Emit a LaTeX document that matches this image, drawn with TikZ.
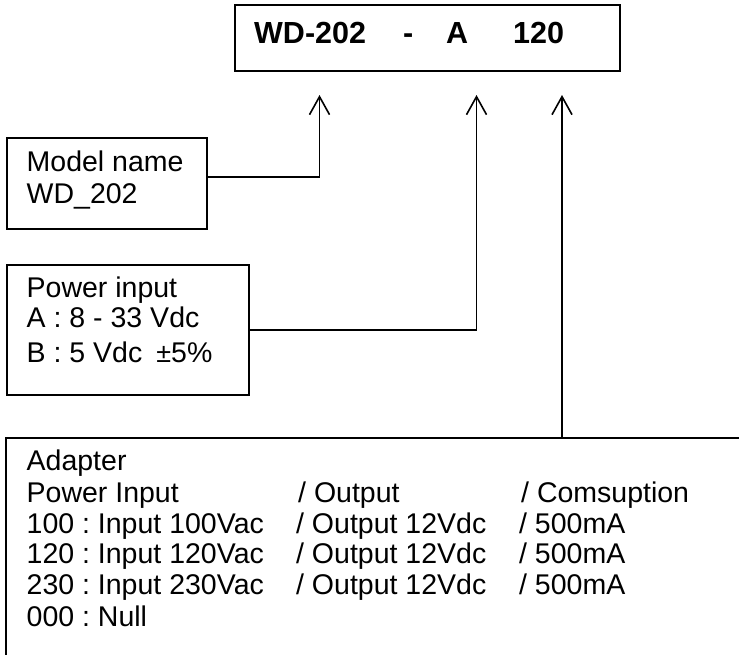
\documentclass[tikz,border=0pt]{standalone}
\usepackage{fontspec}
\setmainfont{Liberation Sans}
\usetikzlibrary{arrows.meta}
\frenchspacing
\begin{document}
\begin{tikzpicture}[x=1pt,y=-1pt,
  box/.style={draw, line width=1.8pt, rectangle, inner sep=0pt, anchor=north west},
  txt/.style={inner sep=0pt, anchor=base west, font=\fontsize{28.5}{31}\selectfont},
  big/.style={inner sep=0pt, anchor=base west, font=\fontsize{30.5}{33}\selectfont\bfseries},
  link/.style={line width=1.6pt},
  arr/.style={link, -{Straight Barb[length=18pt,width=20pt]}}]
\useasboundingbox (0,0) rectangle (739,654);
\clip (0,0) rectangle (739,654);
% top code box
\node[box, minimum width=385pt, minimum height=66pt] (code) at (234,4) {};
\node[big] (cwd) at (254,43.3) {WD-202};
\node[big] (cdash) at (403,43.3) {-};
\node[big] (ca) at (446,43.3) {A};
\node[big] (c120) at (513,43.3) {120};
% arrow tips
\coordinate (tipW) at (319.5,95);
\coordinate (tipA) at (476.5,95);
\coordinate (tipC) at (562,95);
% model name box
\node[box, minimum width=200pt, minimum height=91pt] (model) at (6,137) {};
\node[txt] (m1) at (26.5,171) {Model name};
\node[txt] (m2) at (26.5,203) {WD\_202};
\coordinate (mrow) at (0,177);
\draw[arr] (model.east |- mrow) -| (tipW);
% power input box
\node[box, minimum width=242pt, minimum height=130pt] (power) at (6,264) {};
\node[txt] (p1) at (26.5,297) {Power input};
\node[txt] (p2) at (26.5,327) {A : 8 - 33 Vdc};
\node[txt] (p3) at (26.5,362) {B : 5 Vdc\hspace{14pt}{\fontsize{27}{27}\selectfont ±}\hspace{0pt}5\%};
\draw[arr] (power.east) -| (tipA);
% adapter box
\node[box, minimum width=780pt, minimum height=280pt] (adapter) at (5,437) {};
\node[txt] (a0) at (26.5,470.5) {Adapter};
\node[txt] (a1) at (26.5,502) {\makebox[271.5pt][l]{Power Input}\makebox[223pt][l]{/ Output}/ Comsuption};
\node[txt] (a2) at (26.5,533) {\makebox[269.5pt][l]{100 : Input 100Vac}\makebox[223pt][l]{/ Output 12Vdc}/ 500mA};
\node[txt] (a3) at (26.5,563) {\makebox[269.5pt][l]{120 : Input 120Vac}\makebox[223pt][l]{/ Output 12Vdc}/ 500mA};
\node[txt] (a4) at (26.5,594) {\makebox[269.5pt][l]{230 : Input 230Vac}\makebox[223pt][l]{/ Output 12Vdc}/ 500mA};
\node[txt] (a5) at (26.5,626) {000 : Null};
\draw[arr] (adapter.north -| tipC) -- (tipC);
\end{tikzpicture}
\end{document}
